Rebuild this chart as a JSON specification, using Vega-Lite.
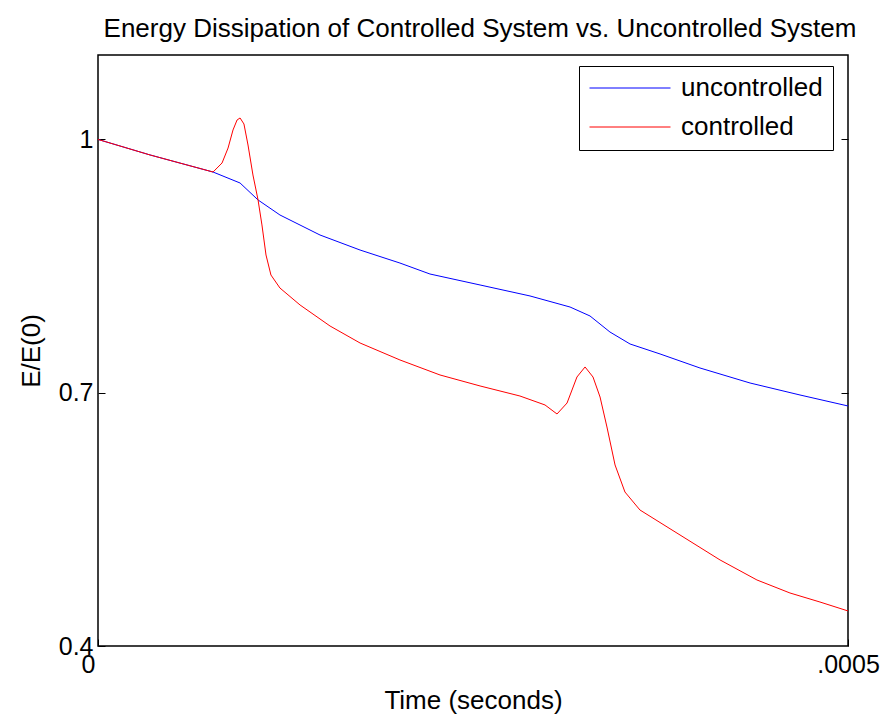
{
  "$schema": "https://vega.github.io/schema/vega-lite/v6.json",
  "autosize": {"type": "none"},
  "padding": {"left": 98, "top": 55, "right": 36, "bottom": 77},
  "width": 750,
  "height": 591,
  "background": "white",
  "config": {
    "font": "Liberation Sans",
    "view": {"stroke": "#000000", "strokeWidth": 1.5},
    "axis": {
      "grid": false,
      "domain": false,
      "tickColor": "#000000",
      "tickSize": -7,
      "labelColor": "#000000",
      "labelFont": "Liberation Sans",
      "labelFontSize": 25,
      "titleFont": "Liberation Sans",
      "titleFontSize": 26,
      "titleFontWeight": "normal",
      "titleColor": "#000000"
    }
  },
  "title": {
    "text": "Energy Dissipation of Controlled System vs. Uncontrolled System",
    "font": "Liberation Sans",
    "fontSize": 26,
    "fontWeight": "normal",
    "color": "#000000",
    "anchor": "middle",
    "dx": 7,
    "offset": 13
  },
  "data": {
    "values": [
      {"t": 0.0, "e": 1.0, "series": "uncontrolled"},
      {"t": 0.0000347, "e": 0.9816, "series": "uncontrolled"},
      {"t": 0.0000767, "e": 0.9614, "series": "uncontrolled"},
      {"t": 0.0000947, "e": 0.9484, "series": "uncontrolled"},
      {"t": 0.0001067, "e": 0.9283, "series": "uncontrolled"},
      {"t": 0.0001213, "e": 0.9105, "series": "uncontrolled"},
      {"t": 0.000148, "e": 0.8868, "series": "uncontrolled"},
      {"t": 0.0001747, "e": 0.869, "series": "uncontrolled"},
      {"t": 0.0002013, "e": 0.8536, "series": "uncontrolled"},
      {"t": 0.0002213, "e": 0.8406, "series": "uncontrolled"},
      {"t": 0.0002547, "e": 0.8276, "series": "uncontrolled"},
      {"t": 0.000288, "e": 0.8146, "series": "uncontrolled"},
      {"t": 0.0003147, "e": 0.8015, "series": "uncontrolled"},
      {"t": 0.000328, "e": 0.7909, "series": "uncontrolled"},
      {"t": 0.0003413, "e": 0.7719, "series": "uncontrolled"},
      {"t": 0.0003547, "e": 0.7577, "series": "uncontrolled"},
      {"t": 0.0003747, "e": 0.7459, "series": "uncontrolled"},
      {"t": 0.0004013, "e": 0.7293, "series": "uncontrolled"},
      {"t": 0.0004347, "e": 0.7115, "series": "uncontrolled"},
      {"t": 0.000468, "e": 0.6973, "series": "uncontrolled"},
      {"t": 0.0005, "e": 0.6843, "series": "uncontrolled"},

      {"t": 0.0, "e": 1.0, "series": "controlled"},
      {"t": 0.0000347, "e": 0.9816, "series": "controlled"},
      {"t": 0.0000767, "e": 0.9614, "series": "controlled"},
      {"t": 0.0000827, "e": 0.9721, "series": "controlled"},
      {"t": 0.0000867, "e": 0.9898, "series": "controlled"},
      {"t": 0.00009, "e": 1.0112, "series": "controlled"},
      {"t": 0.0000927, "e": 1.023, "series": "controlled"},
      {"t": 0.0000947, "e": 1.0254, "series": "controlled"},
      {"t": 0.0000973, "e": 1.0183, "series": "controlled"},
      {"t": 0.0001, "e": 0.9934, "series": "controlled"},
      {"t": 0.0001033, "e": 0.9579, "series": "controlled"},
      {"t": 0.0001067, "e": 0.9283, "series": "controlled"},
      {"t": 0.0001093, "e": 0.8987, "series": "controlled"},
      {"t": 0.000112, "e": 0.8631, "series": "controlled"},
      {"t": 0.0001153, "e": 0.8394, "series": "controlled"},
      {"t": 0.0001213, "e": 0.824, "series": "controlled"},
      {"t": 0.0001347, "e": 0.8039, "series": "controlled"},
      {"t": 0.0001547, "e": 0.779, "series": "controlled"},
      {"t": 0.0001747, "e": 0.7589, "series": "controlled"},
      {"t": 0.0002013, "e": 0.7388, "series": "controlled"},
      {"t": 0.000228, "e": 0.721, "series": "controlled"},
      {"t": 0.0002547, "e": 0.708, "series": "controlled"},
      {"t": 0.0002813, "e": 0.6961, "series": "controlled"},
      {"t": 0.000298, "e": 0.6855, "series": "controlled"},
      {"t": 0.000306, "e": 0.6748, "series": "controlled"},
      {"t": 0.0003127, "e": 0.6878, "series": "controlled"},
      {"t": 0.0003193, "e": 0.7186, "series": "controlled"},
      {"t": 0.0003247, "e": 0.7305, "series": "controlled"},
      {"t": 0.00033, "e": 0.7186, "series": "controlled"},
      {"t": 0.0003347, "e": 0.6949, "series": "controlled"},
      {"t": 0.0003393, "e": 0.6594, "series": "controlled"},
      {"t": 0.0003447, "e": 0.6144, "series": "controlled"},
      {"t": 0.0003513, "e": 0.5824, "series": "controlled"},
      {"t": 0.0003613, "e": 0.5611, "series": "controlled"},
      {"t": 0.000388, "e": 0.5315, "series": "controlled"},
      {"t": 0.0004147, "e": 0.5019, "series": "controlled"},
      {"t": 0.0004393, "e": 0.4782, "series": "controlled"},
      {"t": 0.0004613, "e": 0.4628, "series": "controlled"},
      {"t": 0.0004813, "e": 0.4521, "series": "controlled"},
      {"t": 0.0005, "e": 0.4415, "series": "controlled"}
    ]
  },
  "resolve": {"axis": {"y": "independent"}},
  "layer": [
    {
      "mark": {"type": "line", "strokeWidth": 1, "interpolate": "linear"},
      "encoding": {
        "x": {
          "field": "t",
          "type": "quantitative",
          "scale": {"domain": [0, 0.0005], "nice": false, "zero": false},
          "axis": {
            "values": [0, 0.0005],
            "labelExpr": "datum.value == 0 ? '0' : '.0005'",
            "labelFlush": false,
            "labelPadding": 13,
            "labelOffset": {"condition": {"test": "datum.value == 0", "value": -10}, "value": 0},
            "title": "Time (seconds)",
            "titlePadding": 10
          }
        },
        "y": {
          "field": "e",
          "type": "quantitative",
          "scale": {"domain": [0.4, 1.1], "nice": false, "zero": false},
          "axis": {
            "values": [0.4, 0.7, 1.0],
            "labelExpr": "datum.value == 1 ? '1' : format(datum.value, '.1f')",
            "labelFlush": false,
            "labelPadding": 12,
            "title": "E/E(0)",
            "titlePadding": 14
          }
        },
        "color": {
          "field": "series",
          "type": "nominal",
          "sort": ["uncontrolled", "controlled"],
          "scale": {"domain": ["uncontrolled", "controlled"], "range": ["#0000ff", "#ff0000"]},
          "legend": {
            "title": null,
            "orient": "none",
            "legendX": 481,
            "legendY": 11,
            "direction": "vertical",
            "symbolType": "stroke",
            "symbolSize": 6561,
            "symbolStrokeWidth": 1,
            "clipHeight": 24,
            "rowPadding": 13,
            "labelFont": "Liberation Sans",
            "labelFontSize": 26,
            "labelColor": "#000000",
            "labelOffset": 10,
            "padding": 10,
            "strokeColor": "#000000",
            "fillColor": "#ffffff",
            "cornerRadius": 0
          }
        }
      }
    },
    {
      "mark": {"type": "point", "opacity": 0},
      "encoding": {
        "x": {"field": "t", "type": "quantitative"},
        "y": {
          "field": "e",
          "type": "quantitative",
          "axis": {
            "orient": "right",
            "values": [0.7, 1.0],
            "labels": false,
            "title": null
          }
        }
      }
    }
  ]
}
